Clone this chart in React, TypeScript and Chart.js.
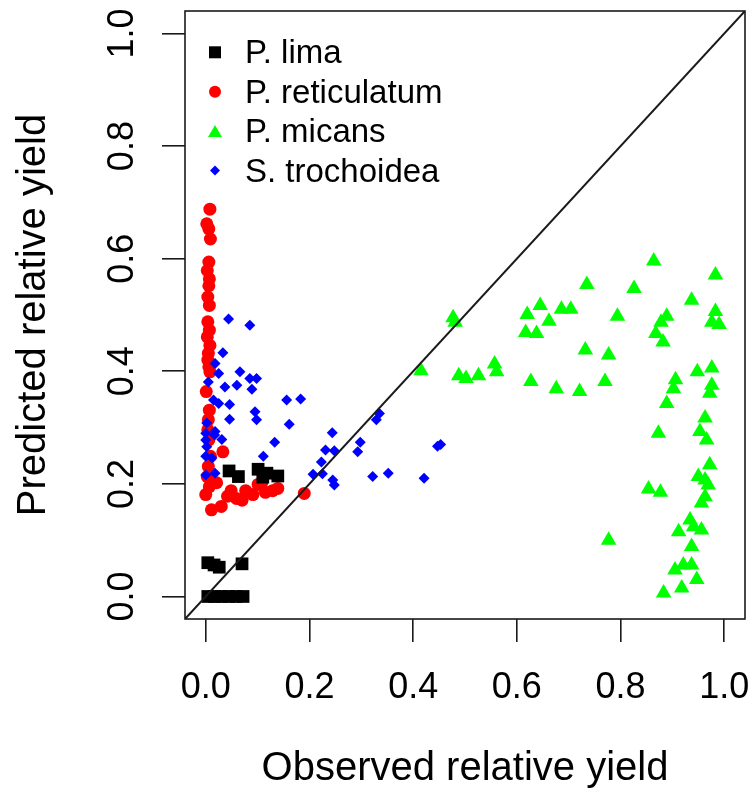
import React, { useEffect, useRef } from 'react';
import { Chart, registerables } from 'chart.js';

Chart.register(...registerables);

// ---------------- data ----------------
const limaX = [0.045, 0.063, 0.101, 0.118, 0.139, 0.11, 0.004, 0.016, 0.026, 0.07, 0.004, 0.017, 0.03, 0.044, 0.058, 0.072];
const limaY = [0.223, 0.213, 0.226, 0.219, 0.214, 0.212, 0.06, 0.056, 0.052, 0.058, 0.0, 0.0, 0.0, 0.0, 0.0, 0.0];

const reticulatumX = [
  0.008, 0.002, 0.006, 0.009, 0.006, 0.003, 0.007, 0.006, 0.004, 0.007, 0.004, 0.007, 0.003, 0.008,
  0.005, 0.004, 0.006, 0.008, 0.001, 0.007, 0.005, 0.004, 0.006, 0.009, 0.005, 0.003, 0.033,
  0.0, 0.011, 0.03, 0.049, 0.059, 0.077, 0.091, 0.101, 0.115, 0.129, 0.139, 0.007, 0.021, 0.042,
  0.07, 0.108, 0.19,
];
const reticulatumY = [
  0.688, 0.662, 0.653, 0.635, 0.594, 0.579, 0.564, 0.552, 0.532, 0.517, 0.488, 0.473, 0.461, 0.446,
  0.432, 0.42, 0.408, 0.399, 0.364, 0.331, 0.314, 0.296, 0.278, 0.249, 0.231, 0.213, 0.257,
  0.181, 0.154, 0.16, 0.188, 0.174, 0.188, 0.181, 0.199, 0.185, 0.188, 0.192, 0.195, 0.202, 0.178,
  0.171, 0.202, 0.183,
];

const micansX = [
  0.864, 0.983, 0.735, 0.826, 0.937, 0.645, 0.62, 0.686, 0.704, 0.662, 0.794, 0.889, 0.878, 0.983,
  0.976, 0.99, 0.477, 0.481, 0.617, 0.638, 0.868, 0.882, 0.732, 0.777, 0.415, 0.557, 0.561, 0.488,
  0.502, 0.526, 0.627, 0.676, 0.721, 0.77, 0.906, 0.902, 0.948, 0.976, 0.976, 0.972, 0.889, 0.963,
  0.873, 0.953, 0.966, 0.972, 0.95, 0.963, 0.969, 0.854, 0.877, 0.963, 0.956, 0.934, 0.912, 0.941,
  0.956, 0.777, 0.937, 0.921, 0.905, 0.937, 0.947, 0.918, 0.883,
];
const micansY = [
  0.596, 0.571, 0.554, 0.547, 0.526, 0.517, 0.501, 0.51, 0.51, 0.489, 0.498, 0.498, 0.487, 0.506,
  0.487, 0.483, 0.495, 0.487, 0.469, 0.467, 0.467, 0.452, 0.438, 0.429, 0.401, 0.413, 0.399, 0.392,
  0.387, 0.392, 0.382, 0.369, 0.364, 0.382, 0.385, 0.369, 0.399, 0.406, 0.375, 0.361, 0.343, 0.317,
  0.29, 0.293, 0.278, 0.234, 0.213, 0.207, 0.198, 0.191, 0.185, 0.177, 0.166, 0.136, 0.115, 0.124,
  0.118, 0.1, 0.089, 0.056, 0.047, 0.056, 0.03, 0.015, 0.006,
];

const trochoideaX = [
  0.044, 0.085, 0.033, 0.018, 0.025, 0.066, 0.005, 0.037, 0.06, 0.085, 0.098, 0.089, 0.015, 0.025,
  0.046, 0.156, 0.183, 0.095, 0.098, 0.046, 0.161, 0.002, 0.018, 0.031, 0.0, 0.133, 0.002, 0.0,
  0.012, 0.111, 0.018, 0.0, 0.335, 0.329, 0.244, 0.298, 0.293, 0.231, 0.248, 0.223, 0.207, 0.225,
  0.245, 0.248, 0.322, 0.352, 0.421, 0.453, 0.447, 0.017, 0.0,
];
const trochoideaY = [
  0.493, 0.482, 0.433, 0.414, 0.396, 0.399, 0.381, 0.372, 0.375, 0.387, 0.387, 0.368, 0.349, 0.343,
  0.341, 0.349, 0.351, 0.328, 0.314, 0.315, 0.306, 0.308, 0.293, 0.279, 0.278, 0.274, 0.266, 0.249,
  0.246, 0.249, 0.219, 0.216, 0.325, 0.314, 0.291, 0.274, 0.257, 0.26, 0.259, 0.239, 0.217, 0.218,
  0.207, 0.198, 0.213, 0.219, 0.21, 0.27, 0.267, 0.287, 0.29,
];

const tickValues = [0.0, 0.2, 0.4, 0.6, 0.8, 1.0];
const axisRange = [-0.04, 1.04];
const seriesNames = ['P. lima', 'P. reticulatum', 'P. micans', 'S. trochoidea'];
const seriesColors = ['#000000', '#ff0000', '#00ff00', '#0000ff'];
const xTitle = 'Observed relative yield';
const yTitle = 'Predicted relative yield';

const FONT = '"Liberation Sans", Arial, Helvetica, sans-serif';
const INK = '#1a1a1a';

const zip = (xs: number[], ys: number[]) => xs.map((x, i) => ({ x, y: ys[i] }));

function drawMarker(ctx: CanvasRenderingContext2D, kind: string, x: number, y: number, r: number) {
  ctx.beginPath();
  if (kind === 'rect') {
    ctx.rect(x - r, y - r, 2 * r, 2 * r);
  } else if (kind === 'circle') {
    ctx.arc(x, y, r, 0, Math.PI * 2);
  } else if (kind === 'triangle') {
    ctx.moveTo(x, y - r);
    ctx.lineTo(x + r * Math.sin((2 * Math.PI) / 3), y - r * Math.cos((2 * Math.PI) / 3));
    ctx.lineTo(x + r * Math.sin((4 * Math.PI) / 3), y - r * Math.cos((4 * Math.PI) / 3));
    ctx.closePath();
  } else {
    ctx.moveTo(x, y - r);
    ctx.lineTo(x + r, y);
    ctx.lineTo(x, y + r);
    ctx.lineTo(x - r, y);
    ctx.closePath();
  }
  ctx.fill();
}

const rStylePlugin = {
  id: 'rStyle',
  afterDraw(chart: any) {
    const { ctx, chartArea } = chart;
    const xs = chart.scales.x;
    const ys = chart.scales.y;
    const cx = (chartArea.left + chartArea.right) / 2;
    const cy = (chartArea.top + chartArea.bottom) / 2;
    ctx.save();
    // box
    ctx.strokeStyle = INK;
    ctx.lineWidth = 1.6;
    ctx.strokeRect(chartArea.left, chartArea.top, chartArea.right - chartArea.left, chartArea.bottom - chartArea.top);

    ctx.fillStyle = '#000';
    ctx.textBaseline = 'alphabetic';
    ctx.textAlign = 'center';

    // x tick labels
    ctx.font = `36px ${FONT}`;
    xs.ticks.forEach((t: any) => {
      const px = xs.getPixelForValue(t.value);
      ctx.fillText(Number(t.value).toFixed(1), px, chartArea.bottom + 79);
    });
    // y tick labels (rotated, like R's default las=0)
    ys.ticks.forEach((t: any) => {
      const py = ys.getPixelForValue(t.value);
      ctx.save();
      ctx.translate(chartArea.left - 52, py);
      ctx.rotate(-Math.PI / 2);
      ctx.fillText(Number(t.value).toFixed(1), 0, 0);
      ctx.restore();
    });

    // axis titles
    ctx.font = `40px ${FONT}`;
    ctx.fillText(xTitle, cx, chartArea.bottom + 161);
    ctx.save();
    ctx.translate(chartArea.left - 140, cy);
    ctx.rotate(-Math.PI / 2);
    ctx.fillText(yTitle, 0, 0);
    ctx.restore();

    // legend
    const kinds = ['rect', 'circle', 'triangle', 'rectRot'];
    const sizes = [6, 6, 8, 5];
    ctx.font = `33px ${FONT}`;
    ctx.textAlign = 'left';
    seriesNames.forEach((name, i) => {
      const base = chartArea.top + 52.3 + i * 39.4;
      ctx.fillStyle = seriesColors[i];
      drawMarker(ctx, kinds[i], chartArea.left + 30, base - 11 + (kinds[i] === 'triangle' ? 2 : 0), sizes[i]);
      ctx.fillStyle = '#000';
      ctx.fillText(name, chartArea.left + 60, base);
    });
    ctx.restore();
  },
};

export default function App() {
  const ref = useRef<HTMLCanvasElement | null>(null);

  useEffect(() => {
    if (!ref.current) return;
    const setTicks = (scale: any) => {
      scale.ticks = tickValues.map((v) => ({ value: v }));
    };
    const chart = new Chart(ref.current, {
      type: 'scatter',
      data: {
        datasets: [
          {
            type: 'line',
            label: 'identity',
            data: zip(axisRange, axisRange),
            borderColor: INK,
            borderWidth: 2,
            pointRadius: 0,
            fill: false,
            order: -1,
          } as any,
          {
            label: seriesNames[3],
            data: zip(trochoideaX, trochoideaY),
            pointStyle: 'rectRot',
            pointRadius: 5.5,
            backgroundColor: seriesColors[3],
            borderWidth: 0,
            order: 0,
          },
          {
            label: seriesNames[0],
            data: zip(limaX, limaY),
            pointStyle: 'rect',
            pointRadius: 9,
            backgroundColor: seriesColors[0],
            borderWidth: 0,
            order: 1,
          },
          {
            label: seriesNames[1],
            data: zip(reticulatumX, reticulatumY),
            pointStyle: 'circle',
            pointRadius: 6.5,
            backgroundColor: seriesColors[1],
            borderWidth: 0,
            order: 2,
          },
          {
            label: seriesNames[2],
            data: zip(micansX, micansY),
            pointStyle: 'triangle',
            pointRadius: 9,
            backgroundColor: seriesColors[2],
            borderWidth: 0,
            order: 3,
          },
        ],
      },
      options: {
        animation: false,
        responsive: false,
        devicePixelRatio: 1,
        events: [],
        layout: { padding: { top: 11, right: 7, left: 0, bottom: 0 } },
        plugins: { legend: { display: false }, tooltip: { enabled: false } },
        scales: {
          x: {
            type: 'linear',
            min: axisRange[0],
            max: axisRange[1],
            afterBuildTicks: setTicks,
            afterFit: (s: any) => {
              s.height = 174;
            },
            ticks: { display: false },
            grid: { drawOnChartArea: false, drawTicks: true, tickLength: 23, color: INK, lineWidth: 1.6 },
            border: { display: false },
            title: { display: false },
          },
          y: {
            type: 'linear',
            min: axisRange[0],
            max: axisRange[1],
            afterBuildTicks: setTicks,
            afterFit: (s: any) => {
              s.width = 185;
            },
            ticks: { display: false },
            grid: { drawOnChartArea: false, drawTicks: true, tickLength: 23, color: INK, lineWidth: 1.6 },
            border: { display: false },
            title: { display: false },
          },
        },
      },
      plugins: [rStylePlugin],
    });
    return () => chart.destroy();
  }, []);

  return (
    <div style={{ position: 'absolute', left: 0, top: 0, width: 754, height: 793, background: '#fff' }}>
      <canvas ref={ref} width={754} height={793} />
    </div>
  );
}
